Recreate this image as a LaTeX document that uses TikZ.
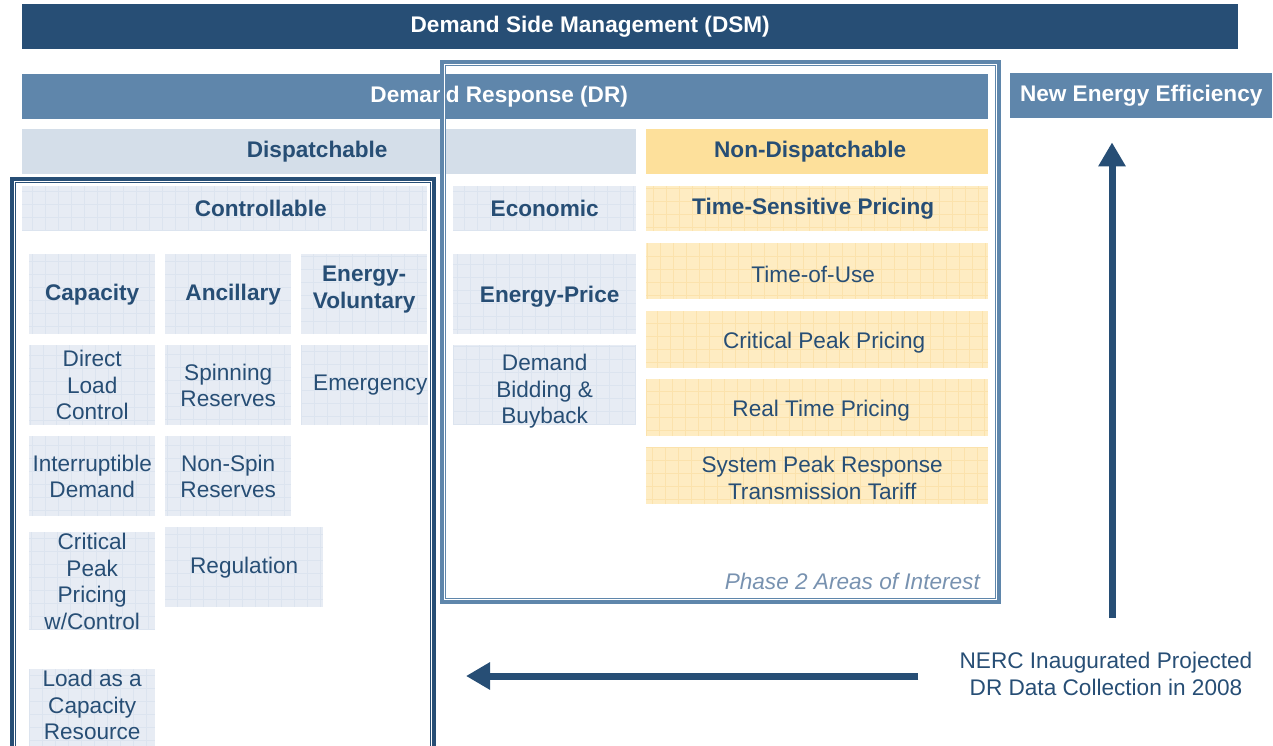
\documentclass[tikz,border=0pt]{standalone}
\usepackage{fontspec}
\setmainfont{Liberation Sans}
\usepackage{tikz}
\usetikzlibrary{arrows.meta,positioning}

\definecolor{dsmblue}{RGB}{39,78,117}
\definecolor{drblue}{RGB}{95,134,171}
\definecolor{paleblue}{RGB}{212,222,233}
\definecolor{cellblue}{RGB}{231,236,244}
\definecolor{cellbline}{RGB}{220,228,239}
\definecolor{ndyellow}{RGB}{253,224,155}
\definecolor{cellyellow}{RGB}{254,236,194}
\definecolor{cellyline}{RGB}{251,226,172}
\definecolor{phasegray}{RGB}{120,146,176}

\begin{document}
\begin{tikzpicture}[
    x=1pt, y=-1pt,
    font=\fontsize{22.6}{26.5}\selectfont,
    text=dsmblue,
    box/.style={anchor=north west, inner sep=0pt, align=center, minimum width=126pt, minimum height=80pt},
    head/.style={box, font=\fontsize{22.6}{26.5}\selectfont\bfseries},
    bar/.style={head, minimum height=45pt, text=white},
    blueCell/.style={fill=cellblue, path picture={\draw[draw=cellbline, line width=0.5pt, step=13pt] (path picture bounding box.south west) grid (path picture bounding box.north east);}},
    yellowCell/.style={fill=cellyellow, path picture={\draw[draw=cellyline, line width=0.5pt, step=13pt] (path picture bounding box.south west) grid (path picture bounding box.north east);}},
    frame/.style={line width=6pt},
    gapline/.style={draw=white, line width=1pt},
    bigarrow/.style={-{Triangle[length=24pt, width=26pt]}, line width=7pt, draw=dsmblue}
]
\useasboundingbox (0,0) rectangle (1273,746);

% top bars
\node[bar, fill=dsmblue, minimum width=1216pt] (dsm) at (22,4) {Demand Side Management (DSM)\hspace*{80pt}};
\node[bar, fill=drblue, minimum width=966pt] (dr) at (22,74) {Demand Response (DR)\hspace*{12pt}};
\node[bar, fill=drblue, minimum width=262pt] (nee) at (1010,73) {New Energy Efficiency};
\node[head, fill=paleblue, minimum width=614pt, minimum height=45pt] (disp) at (22,129) {Dispatchable\hspace*{24pt}};
\node[head, fill=ndyellow, minimum width=342pt, minimum height=45pt] (nondisp) at (646,129) {Non-Dispatchable\hspace*{14pt}};

% second level
\node[head, blueCell, minimum width=405pt, minimum height=45pt] (ctrl) at (22,186) {\hspace*{72pt}Controllable};
\node[head, blueCell, minimum width=183pt, minimum height=45pt] (econ) at (453,186) {Economic};
\node[head, yellowCell, minimum width=342pt, minimum height=45pt] (tsp) at (646,186) {Time-Sensitive Pricing\hspace*{8pt}};

% controllable programs
\node[head, blueCell] (cap) at (29,254) {Capacity};
\node[head, blueCell] (anc) at (165,254) {\hspace*{10pt}Ancillary};
\node[head, blueCell] (envol) at (301,254) {Energy-\\Voluntary\rule[-14pt]{0pt}{0pt}};
\node[box, blueCell] (dlc) at (29,345) {Direct\\Load\\Control};
\node[box, blueCell] (spin) at (165,345) {Spinning\\Reserves};
\node[box, blueCell] (emerg) at (301,345) {\hspace*{12pt}Emergency};
\node[box, blueCell] (intr) at (29,436) {Interruptible\\Demand};
\node[box, blueCell] (nspin) at (165,436) {Non-Spin\\Reserves};
\node[box, blueCell, minimum height=98pt] (cppc) at (29,532) {Critical\\Peak\\Pricing\\w/Control};
\node[box, blueCell, minimum width=158pt] (reg) at (165,527) {Regulation};
\node[box, blueCell] (lacr) at (29,669) {Load as a\\Capacity\\Resource\rule[-8pt]{0pt}{0pt}};

% economic programs
\node[head, blueCell, minimum width=183pt] (eprice) at (453,254) {\rule{0pt}{22pt}\hspace*{10pt}Energy-Price};
\node[box, blueCell, minimum width=183pt, label={[align=center, yshift=-6pt]center:Demand\\Bidding \&\\Buyback}] (dbb) at (453,345) {};

% time-sensitive pricing
\node[box, yellowCell, minimum width=342pt, minimum height=56pt] (tou) at (646,243) {\rule{0pt}{22pt}Time-of-Use\hspace*{8pt}};
\node[box, yellowCell, minimum width=342pt, minimum height=57pt] (cpp) at (646,311) {\rule{0pt}{23pt}\hspace*{14pt}Critical Peak Pricing};
\node[box, yellowCell, minimum width=342pt, minimum height=57pt] (rtp) at (646,379) {\rule{0pt}{23pt}\hspace*{8pt}Real Time Pricing};
\node[box, yellowCell, minimum width=342pt, minimum height=57pt] (sprt) at (646,447) {\rule{0pt}{21pt}\hspace*{10pt}System Peak Response\\\hspace*{10pt}Transmission Tariff};

% frames
\draw[frame, draw=drblue] (443,63) rectangle (998,601);
\draw[gapline] (444.5,64.5) rectangle (996.5,599.5);
\draw[frame, draw=dsmblue] (13,760) |- (433,180) -- (433,760);
\draw[gapline] (14.5,760) |- (431.5,181.5) -- (431.5,760);
\node[anchor=east, inner sep=0pt, text=phasegray, font=\fontsize{22.6}{26.5}\selectfont\itshape] (phase) at (980,581) {Phase 2 Areas of Interest};

% NERC note and arrows
\node[align=center, inner sep=0pt] (nerc) at (1106,674) {NERC Inaugurated Projected\\DR Data Collection in 2008};
\coordinate (upfoot) at (1112,618);
\coordinate (lefttip) at (466,676);
\draw[bigarrow, shorten >=24pt] (upfoot) -- (upfoot |- nee.south);
\draw[bigarrow, shorten <=41pt] (nerc.west |- lefttip) -- (lefttip);
\end{tikzpicture}
\end{document}
